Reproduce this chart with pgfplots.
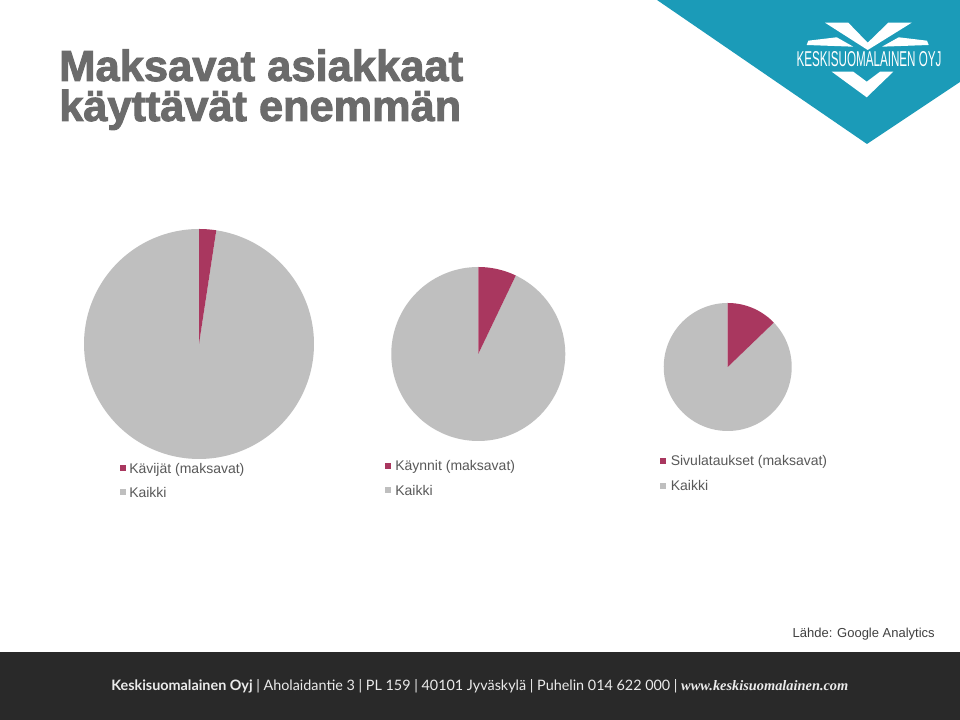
\documentclass[border=0pt]{standalone}
\usepackage{pgfplots}
\pgfplotsset{compat=1.18}
\usepackage{pgfplotstable}
\usepgfplotslibrary{polar}
\usepackage{fontspec}
\setmainfont{Liberation Sans}
\newfontfamily\titlefont{Liberation Sans}[UprightFeatures={FakeBold=2.2}, BoldFeatures={FakeBold=2.2}]
\newfontfamily\footsans{Lato}
\newfontfamily\footserif{Liberation Serif}
\definecolor{pieRed}{HTML}{A9375F}
\definecolor{pieGrey}{HTML}{BFBFBF}
\definecolor{brandTeal}{HTML}{1B9BB8}
\definecolor{titleGrey}{HTML}{6B6B6B}
\definecolor{legText}{HTML}{595959}
\definecolor{footBg}{HTML}{292929}

% share of the paying customers (%) in each pie; the rest is "Kaikki"
\pgfplotstableread{
id share
1 2.4
2 7.1
3 12.8
}\piedata

\pgfplotstablegetelem{0}{share}\of\piedata \pgfmathsetmacro\aA{90-3.6*\pgfplotsretval}
\pgfplotstablegetelem{1}{share}\of\piedata \pgfmathsetmacro\aB{90-3.6*\pgfplotsretval}
\pgfplotstablegetelem{2}{share}\of\piedata \pgfmathsetmacro\aC{90-3.6*\pgfplotsretval}

\pgfplotsset{pie/.style={hide axis, scale only axis, ymin=0, ymax=1, xmin=0, xmax=360, anchor=center, clip=false}}

\begin{document}
\begin{tikzpicture}[x=0.75pt,y=0.75pt]
\useasboundingbox (0,0) rectangle (960,720);
\fill[white] (0,0) rectangle (960,720);

% teal corner with logo
\fill[brandTeal] (657,720) -- (960,720) -- (960,638) -- (867,576) -- cycle;
\fill[white] (825,697.3) -- (848.3,697.3) -- (867.7,677.3) -- (888.3,697.3) -- (911.7,697.3) -- (867.7,670) -- cycle;
\fill[white] (808.3,679.3) -- (836.7,682.7) -- (853.3,673.3) -- (806.7,675) -- cycle;
\fill[white] (927,679.3) -- (898.7,682.7) -- (882,673.3) -- (928.7,675) -- cycle;
\fill[white] (831.7,648.3) -- (853.3,648.3) -- (866.7,638.3) -- (880,648.3) -- (893.3,648.3) -- (866.7,622.7) -- cycle;
\node[anchor=base, inner sep=0, text=white] at (869,653.3) {\resizebox{108.75pt}{11.25pt}{KESKISUOMALAINEN OYJ}};

% title
\node[anchor=base west, inner sep=0, text=titleGrey] at (59,639) {\resizebox{303pt}{!}{\fontsize{30pt}{30pt}\titlefont\bfseries Maksavat asiakkaat}};
\node[anchor=base west, inner sep=0, text=titleGrey] at (59,599) {\resizebox{301.5pt}{!}{\fontsize{30pt}{30pt}\titlefont\bfseries käyttävät enemmän}};

% pies
\begin{polaraxis}[pie, width=172.5pt, at={(149.25pt,282pt)}]
\addplot[draw=none, fill=pieGrey, domain=-270:\aA, samples=180] {1} -- (axis cs:0,0) -- cycle;
\addplot[draw=none, fill=pieRed, domain=\aA:90, samples=20] {1} -- (axis cs:0,0) -- cycle;
\end{polaraxis}
\begin{polaraxis}[pie, width=130.5pt, at={(358.7pt,274.5pt)}]
\addplot[draw=none, fill=pieGrey, domain=-270:\aB, samples=180] {1} -- (axis cs:0,0) -- cycle;
\addplot[draw=none, fill=pieRed, domain=\aB:90, samples=20] {1} -- (axis cs:0,0) -- cycle;
\end{polaraxis}
\begin{polaraxis}[pie, width=96pt, at={(545.8pt,264.75pt)}]
\addplot[draw=none, fill=pieGrey, domain=-270:\aC, samples=180] {1} -- (axis cs:0,0) -- cycle;
\addplot[draw=none, fill=pieRed, domain=\aC:90, samples=20] {1} -- (axis cs:0,0) -- cycle;
\end{polaraxis}

% legends
\begin{scope}[every node/.style={anchor=base west, inner sep=0, text=legText, font=\fontsize{10.5pt}{12pt}\selectfont}]
\fill[pieRed] (120,249) rectangle (126,255);
\node at (129,246.5) {Kävijät (maksavat)};
\fill[pieGrey] (120,224.5) rectangle (126,230.5);
\node at (129,222.5) {Kaikki};
\fill[pieRed] (384.5,251) rectangle (390.5,257);
\node at (395,249) {Käynnit (maksavat)};
\fill[pieGrey] (384.5,226.5) rectangle (390.5,232.5);
\node at (395,224.5) {Kaikki};
\fill[pieRed] (660,255.5) rectangle (666,261.5);
\node at (670.5,254) {Sivulataukset (maksavat)};
\fill[pieGrey] (660,230.5) rectangle (666,236.5);
\node at (670.5,229) {Kaikki};
\end{scope}

\node[anchor=base east, inner sep=0, text=black!75, font=\fontsize{9.75pt}{11pt}\selectfont] at (935,82) {Lähde: Google Analytics};

% footer
\fill[footBg] (0,0) rectangle (960,68);
\node[anchor=base west, inner sep=0, text=white!92!black] at (111,29) {\resizebox{552.75pt}{!}{\fontsize{10pt}{12pt}\selectfont{\footsans\bfseries Keskisuomalainen Oyj}\footsans\ | Aholaidantie 3 | PL 159 | 40101 Jyväskylä | Puhelin 014 622 000 | {\footserif\bfseries\itshape www.keskisuomalainen.com}}};
\end{tikzpicture}
\end{document}
